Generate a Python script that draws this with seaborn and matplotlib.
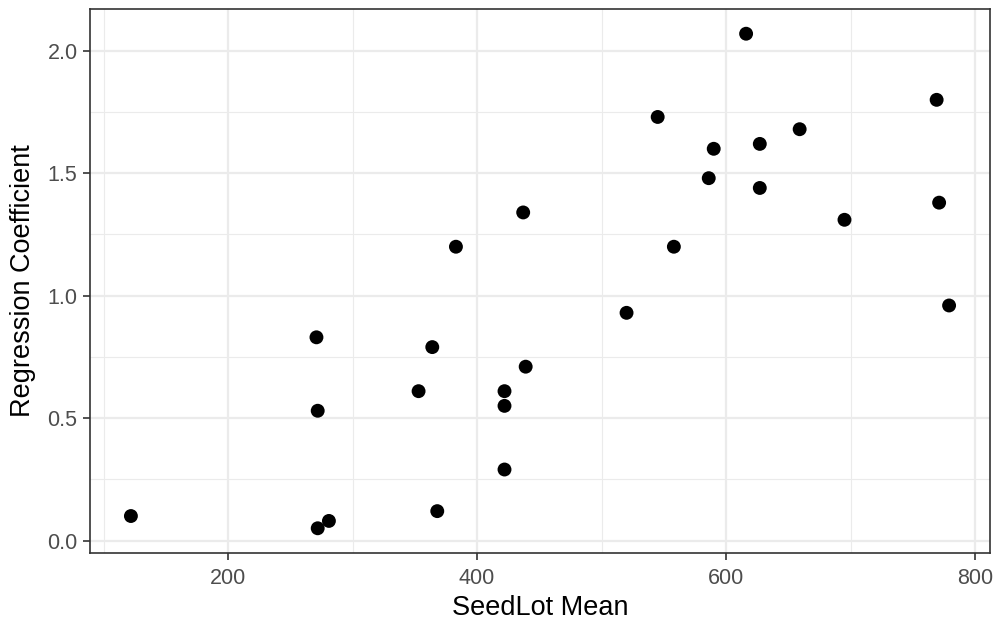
import matplotlib
matplotlib.use("Agg")
import matplotlib.pyplot as plt
import seaborn as sns
import pandas as pd
from matplotlib.ticker import MultipleLocator

seedlot_mean = [122, 271, 272, 272, 281, 353, 364, 368, 383, 422, 422, 422, 437, 439,
                520, 545, 558, 586, 590, 616, 627, 627, 659, 695, 769, 771, 779]
regression_coef = [0.10, 0.83, 0.53, 0.05, 0.08, 0.61, 0.79, 0.12, 1.20, 0.61, 0.55, 0.29, 1.34, 0.71,
                   0.93, 1.73, 1.20, 1.48, 1.60, 2.07, 1.62, 1.44, 1.68, 1.31, 1.80, 1.38, 0.96]

df = pd.DataFrame({"SeedLot Mean": seedlot_mean, "Regression Coefficient": regression_coef})

sns.set_style("white")
plt.rcParams['font.family'] = ['Liberation Sans', 'DejaVu Sans']

fig = plt.figure(figsize=(9.96, 6.21), dpi=100)
ax = fig.add_axes([90/996, (621-553)/621, (990-90)/996, (553-9)/621])

sns.scatterplot(data=df, x="SeedLot Mean", y="Regression Coefficient", ax=ax,
                color="black", s=100, edgecolor="none", zorder=3)

xr = max(seedlot_mean) - min(seedlot_mean)
ax.set_xlim(min(seedlot_mean) - 0.05 * xr, max(seedlot_mean) + 0.05 * xr)
yr = max(regression_coef) - min(regression_coef)
ax.set_ylim(min(regression_coef) - 0.05 * yr, max(regression_coef) + 0.05 * yr)

ax.xaxis.set_major_locator(MultipleLocator(200))
ax.xaxis.set_minor_locator(MultipleLocator(100))
ax.yaxis.set_major_locator(MultipleLocator(0.5))
ax.yaxis.set_minor_locator(MultipleLocator(0.25))
ax.set_xticks([200, 400, 600, 800])
ax.set_xticklabels(["200", "400", "600", "800"])
ax.set_yticks([0.0, 0.5, 1.0, 1.5, 2.0])
ax.set_yticklabels(["0.0", "0.5", "1.0", "1.5", "2.0"])

ax.grid(which="major", color="#EBEBEB", linewidth=1.6, zorder=0)
ax.grid(which="minor", color="#EBEBEB", linewidth=0.8, zorder=0)
ax.set_axisbelow(True)

for sp in ax.spines.values():
    sp.set_visible(True)
    sp.set_color("#333333")
    sp.set_linewidth(1.2)

ax.tick_params(axis="both", which="major", direction="out", length=5, width=1.2,
               bottom=True, left=True, top=False, right=False,
               color="#333333", labelcolor="#4D4D4D", labelsize=15.5, pad=4)
ax.tick_params(axis="x", which="major", pad=6)
ax.tick_params(axis="both", which="minor", length=0)

ax.set_xlabel("SeedLot Mean", fontsize=19.5, color="black", labelpad=4)
ax.set_ylabel("Regression Coefficient", fontsize=19.5, color="black", labelpad=8)

fig.savefig("out.png", dpi=100, facecolor="white")
